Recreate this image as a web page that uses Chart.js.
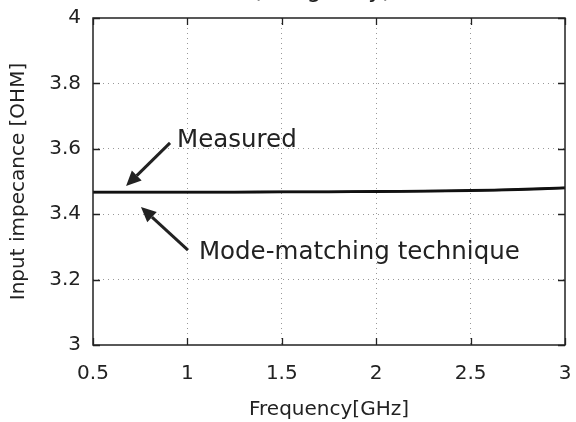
<!DOCTYPE html>
<html>
<head>
<meta charset="utf-8">
<script src="https://cdn.jsdelivr.net/npm/chart.js@4/dist/chart.umd.min.js"></script>
<style>
  html, body { margin: 0; padding: 0; background: #fff; }
  #wrap { width: 576px; height: 422px; }
</style>
</head>
<body>
<div id="wrap"><canvas id="chart" width="576" height="422"></canvas></div>
<script>
// data
const freqGHz = [0.5, 0.75, 1, 1.25, 1.5, 1.75, 2, 2.25, 2.5, 2.75, 3];
const measured = [3.468, 3.468, 3.468, 3.468, 3.469, 3.469, 3.470, 3.471, 3.473, 3.476, 3.481];
const modeMatching = [3.467, 3.467, 3.467, 3.467, 3.468, 3.468, 3.469, 3.470, 3.472, 3.475, 3.480];
const xTicks = [0.5, 1, 1.5, 2, 2.5, 3];
const yTicks = [3, 3.2, 3.4, 3.6, 3.8, 4];

// annotation text + arrow (tail -> head) in data units
const notes = [
  { text: 'Measured', at: [0.945, 3.605], tail: [0.908, 3.618], head: [0.675, 3.486] },
  { text: 'Mode-matching technique', at: [1.061, 3.262], tail: [1.003, 3.29], head: [0.754, 3.422] }
];

const FONT = '"DejaVu Sans", Verdana, sans-serif';
const INK = '#222';

const pts = (ys) => freqGHz.map((x, i) => ({ x: x, y: ys[i] }));

const framePlugin = {
  id: 'frame',
  afterDraw(chart) {
    const ctx = chart.ctx;
    const a = chart.chartArea;
    const xs = chart.scales.x, ys = chart.scales.y;
    ctx.save();

    // box
    ctx.strokeStyle = INK;
    ctx.lineWidth = 1.5;
    ctx.strokeRect(a.left, a.top, a.right - a.left, a.bottom - a.top);

    // inward ticks on all four sides
    ctx.lineWidth = 1.3;
    ctx.beginPath();
    xTicks.forEach(v => {
      const px = Math.round(xs.getPixelForValue(v)) + 0.5;
      ctx.moveTo(px, a.bottom); ctx.lineTo(px, a.bottom - 7);
      ctx.moveTo(px, a.top); ctx.lineTo(px, a.top + 7);
    });
    yTicks.forEach(v => {
      const py = Math.round(ys.getPixelForValue(v)) + 0.5;
      ctx.moveTo(a.left, py); ctx.lineTo(a.left + 7, py);
      ctx.moveTo(a.right, py); ctx.lineTo(a.right - 7, py);
    });
    ctx.stroke();

    // arrows + labels
    ctx.fillStyle = INK;
    ctx.strokeStyle = INK;
    ctx.font = '24.5px ' + FONT;
    ctx.textBaseline = 'alphabetic';
    notes.forEach(n => {
      const tx = xs.getPixelForValue(n.tail[0]), ty = ys.getPixelForValue(n.tail[1]);
      const hx = xs.getPixelForValue(n.head[0]), hy = ys.getPixelForValue(n.head[1]);
      const ang = Math.atan2(hy - ty, hx - tx);
      const len = 15, half = 7;
      const bx = hx - len * Math.cos(ang), by = hy - len * Math.sin(ang);
      ctx.lineWidth = 3;
      ctx.beginPath();
      ctx.moveTo(tx, ty); ctx.lineTo(bx, by);
      ctx.stroke();
      ctx.beginPath();
      ctx.moveTo(hx, hy);
      ctx.lineTo(bx + half * Math.sin(ang), by - half * Math.cos(ang));
      ctx.lineTo(bx - half * Math.sin(ang), by + half * Math.cos(ang));
      ctx.closePath();
      ctx.fill();
      ctx.textAlign = 'left';
      ctx.fillText(n.text, xs.getPixelForValue(n.at[0]), ys.getPixelForValue(n.at[1]));
    });

    // title, clipped at the top edge of the picture
    ctx.textAlign = 'center';
    ctx.font = '24px ' + FONT;
    ctx.fillText('(imaginary)', 322, -3.5);
    ctx.restore();
  }
};

new Chart(document.getElementById('chart'), {
  type: 'line',
  data: {
    datasets: [
      {
        label: 'Measured',
        data: pts(measured),
        borderColor: '#111',
        borderWidth: 2.5,
        pointRadius: 0,
        tension: 0.4
      },
      {
        label: 'Mode-matching technique',
        data: pts(modeMatching),
        borderColor: '#111',
        borderWidth: 2.5,
        pointRadius: 0,
        tension: 0.4
      }
    ]
  },
  options: {
    responsive: false,
    animation: false,
    layout: { padding: { left: 0, right: 11, top: 18, bottom: 0 } },
    plugins: {
      legend: { display: false },
      tooltip: { enabled: false }
    },
    scales: {
      x: {
        type: 'linear',
        min: 0.5,
        max: 3,
        afterBuildTicks: (s) => { s.ticks = xTicks.map(v => ({ value: v })); },
        afterFit: (s) => { s.height = 77; s.paddingLeft = 0; s.paddingRight = 0; },
        border: { display: false, dash: [1, 4] },
        grid: {
          color: (c) => (c.tick.value === 0.5 || c.tick.value === 3) ? 'rgba(0,0,0,0)' : '#999',
          lineWidth: 1,
          drawTicks: false
        },
        ticks: {
          color: INK,
          font: { family: FONT, size: 20 },
          padding: 17,
          maxRotation: 0,
          callback: (v) => String(v)
        },
        title: {
          display: true,
          text: 'Frequency[GHz]',
          color: INK,
          font: { family: FONT, size: 20 },
          padding: { top: 4, bottom: 0 }
        }
      },
      y: {
        type: 'linear',
        min: 3,
        max: 4,
        afterBuildTicks: (s) => { s.ticks = yTicks.map(v => ({ value: v })); },
        afterFit: (s) => { s.width = 93; s.paddingTop = 0; s.paddingBottom = 0; },
        border: { display: false, dash: [1, 4] },
        grid: {
          color: (c) => (c.tick.value === 3 || c.tick.value === 4) ? 'rgba(0,0,0,0)' : '#999',
          lineWidth: 1,
          drawTicks: false
        },
        ticks: {
          color: INK,
          font: { family: FONT, size: 20 },
          padding: 12,
          callback: (v) => String(v)
        },
        title: {
          display: true,
          text: 'Input impecance [OHM]',
          color: INK,
          font: { family: FONT, size: 20 },
          padding: { top: 7, bottom: 0 }
        }
      }
    }
  },
  plugins: [framePlugin]
});
</script>
</body>
</html>
